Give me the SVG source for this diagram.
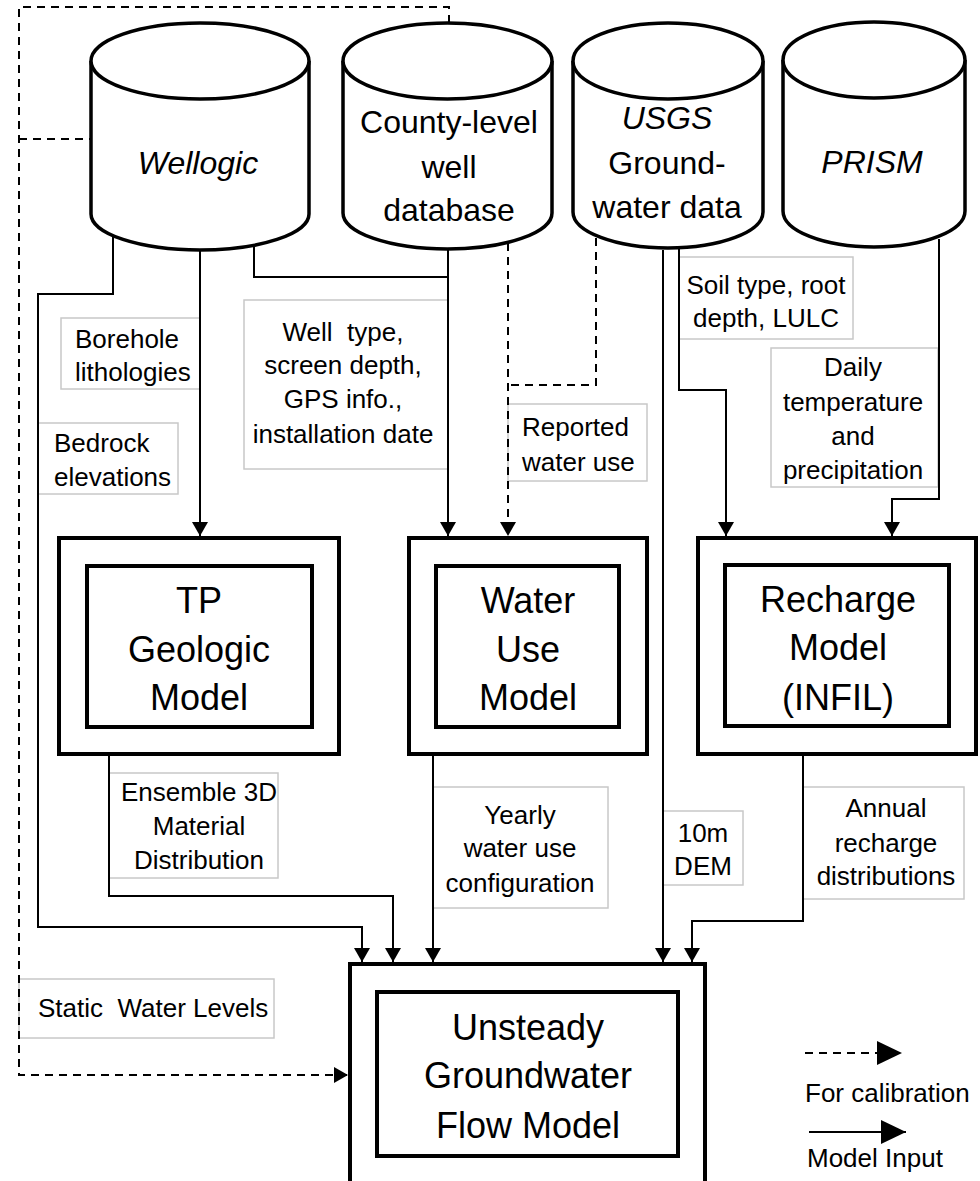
<svg xmlns="http://www.w3.org/2000/svg" width="980" height="1181" viewBox="0 0 980 1181">
  <style>
    .cyl { fill: #fff; stroke: #000; stroke-width: 3.5; }
    .outer { fill: #fff; stroke: #000; stroke-width: 4; }
    .inner { fill: none; stroke: #000; stroke-width: 4; }
    .lbl { fill: #fff; stroke: #c8c8c8; stroke-width: 1.5; }
    .wire { fill: none; stroke: #000; stroke-width: 2; }
    .dash { fill: none; stroke: #000; stroke-width: 2; stroke-dasharray: 8 6; }
    text { font-family: "Liberation Sans", Arial, sans-serif; fill: #000; white-space: pre; }
    .t-cyl { font-size: 32px; text-anchor: middle; }
    .t-box { font-size: 36px; text-anchor: middle; }
    .t-lbl { font-size: 26px; }
    .mid { text-anchor: middle; }
    .it { font-style: italic; }
  </style>
  <defs>
    <marker id="arr" markerUnits="userSpaceOnUse" markerWidth="16" markerHeight="16" refX="14" refY="8" orient="auto">
      <path d="M0,0 L14,8 L0,16 Z" fill="#000"/>
    </marker>
    <marker id="arrBig" markerUnits="userSpaceOnUse" markerWidth="26" markerHeight="24" refX="25" refY="12" orient="auto">
      <path d="M0,0 L25,12 L0,24 Z" fill="#000"/>
    </marker>
  </defs>

  <!-- edge labels -->
  <g id="labels">
    <rect class="lbl" x="61" y="318" width="139" height="71"/>
    <text class="t-lbl" x="75" y="348">Borehole</text>
    <text class="t-lbl" x="75" y="381">lithologies</text>

    <rect class="lbl" x="38" y="423" width="140" height="71"/>
    <text class="t-lbl" x="54" y="452">Bedrock</text>
    <text class="t-lbl" x="54" y="486">elevations</text>

    <rect class="lbl" x="244" y="300" width="204" height="169"/>
    <text class="t-lbl mid" x="343" y="341" xml:space="preserve">Well  type,</text>
    <text class="t-lbl mid" x="343" y="374">screen depth,</text>
    <text class="t-lbl mid" x="343" y="408">GPS info.,</text>
    <text class="t-lbl mid" x="343" y="443">installation date</text>

    <rect class="lbl" x="508" y="404" width="139" height="77"/>
    <text class="t-lbl" x="522" y="436">Reported</text>
    <text class="t-lbl" x="522" y="471">water use</text>

    <rect class="lbl" x="679" y="257" width="174" height="82"/>
    <text class="t-lbl mid" x="766" y="294">Soil type, root</text>
    <text class="t-lbl mid" x="766" y="327">depth, LULC</text>

    <rect class="lbl" x="771" y="348" width="167" height="139"/>
    <text class="t-lbl mid" x="853" y="376">Daily</text>
    <text class="t-lbl mid" x="853" y="411">temperature</text>
    <text class="t-lbl mid" x="853" y="445">and</text>
    <text class="t-lbl mid" x="853" y="479">precipitation</text>

    <rect class="lbl" x="109" y="773" width="169" height="105"/>
    <text class="t-lbl mid" x="199" y="801">Ensemble 3D</text>
    <text class="t-lbl mid" x="199" y="835">Material</text>
    <text class="t-lbl mid" x="199" y="869">Distribution</text>

    <rect class="lbl" x="433" y="787" width="175" height="121"/>
    <text class="t-lbl mid" x="520" y="824">Yearly</text>
    <text class="t-lbl mid" x="520" y="857">water use</text>
    <text class="t-lbl mid" x="520" y="892">configuration</text>

    <rect class="lbl" x="663" y="811" width="80" height="74"/>
    <text class="t-lbl mid" x="703" y="842">10m</text>
    <text class="t-lbl mid" x="703" y="875">DEM</text>

    <rect class="lbl" x="803" y="787" width="161" height="112"/>
    <text class="t-lbl mid" x="886" y="817">Annual</text>
    <text class="t-lbl mid" x="886" y="852">recharge</text>
    <text class="t-lbl mid" x="886" y="885">distributions</text>

    <rect class="lbl" x="19" y="979" width="255" height="59"/>
    <text class="t-lbl" x="38" y="1017" xml:space="preserve">Static  Water Levels</text>
  </g>

  <!-- connectors -->
  <g id="connectors">
    <!-- model inputs -->
    <path class="wire" d="M113,236 V294 H38 V927 H362 V962" marker-end="url(#arr)"/>
    <path class="wire" d="M200,250 V536" marker-end="url(#arr)"/>
    <path class="wire" d="M254,245 V277 H448"/>
    <path class="wire" d="M448,249 V536" marker-end="url(#arr)"/>
    <path class="wire" d="M663,250 V962" marker-end="url(#arr)"/>
    <path class="wire" d="M679,249 V390 H726 V536" marker-end="url(#arr)"/>
    <path class="wire" d="M939,239 V499 H892 V536" marker-end="url(#arr)"/>
    <path class="wire" d="M109,754 V896 H393 V962" marker-end="url(#arr)"/>
    <path class="wire" d="M433,754 V962" marker-end="url(#arr)"/>
    <path class="wire" d="M803,754 V921 H692 V962" marker-end="url(#arr)"/>
    <!-- calibration data -->
    <path class="dash" d="M508,243 V536" marker-end="url(#arr)"/>
    <path class="dash" d="M596,238 V385 H508"/>
    <path class="dash" d="M449,23 V7 H19 V1075 H348" marker-end="url(#arr)"/>
    <path class="dash" d="M19,139 H91"/>
  </g>

  <!-- data sources -->
  <g id="wellogic">
    <path class="cyl" d="M91,61 V214 A109,36 0 0 0 309,214 V61"/>
    <ellipse class="cyl" cx="200" cy="61" rx="109" ry="38"/>
    <text class="t-cyl it" x="198" y="174">Wellogic</text>
  </g>
  <g id="county">
    <path class="cyl" d="M343,61 V213 A104.5,36 0 0 0 552,213 V61"/>
    <ellipse class="cyl" cx="447.5" cy="61" rx="104.5" ry="38"/>
    <text class="t-cyl" x="449" y="133">County-level</text>
    <text class="t-cyl" x="449" y="178">well</text>
    <text class="t-cyl" x="449" y="221">database</text>
  </g>
  <g id="usgs">
    <path class="cyl" d="M573,61 V212 A95,36 0 0 0 763,212 V61"/>
    <ellipse class="cyl" cx="668" cy="61" rx="95" ry="38"/>
    <text class="t-cyl it" x="667" y="129">USGS</text>
    <text class="t-cyl" x="667" y="174">Ground-</text>
    <text class="t-cyl" x="667" y="218">water data</text>
  </g>
  <g id="prism">
    <path class="cyl" d="M783,60 V211 A91,36 0 0 0 965,211 V60"/>
    <ellipse class="cyl" cx="874" cy="60" rx="91" ry="38"/>
    <text class="t-cyl it" x="872" y="173">PRISM</text>
  </g>

  <!-- models -->
  <g id="tp-geologic">
    <rect class="outer" x="59" y="538" width="280" height="216"/>
    <rect class="inner" x="87" y="566" width="225" height="161"/>
    <text class="t-box" x="199" y="613">TP</text>
    <text class="t-box" x="199" y="662">Geologic</text>
    <text class="t-box" x="199" y="710">Model</text>
  </g>
  <g id="water-use">
    <rect class="outer" x="409" y="538" width="238" height="216"/>
    <rect class="inner" x="436" y="566" width="183" height="161"/>
    <text class="t-box" x="528" y="613">Water</text>
    <text class="t-box" x="528" y="662">Use</text>
    <text class="t-box" x="528" y="710">Model</text>
  </g>
  <g id="recharge">
    <rect class="outer" x="698" y="538" width="278" height="216"/>
    <rect class="inner" x="725" y="565" width="224" height="161"/>
    <text class="t-box" x="838" y="612">Recharge</text>
    <text class="t-box" x="838" y="660">Model</text>
    <text class="t-box" x="838" y="710">(INFIL)</text>
  </g>
  <g id="groundwater-flow">
    <rect class="outer" x="350" y="964" width="355" height="240"/>
    <rect class="inner" x="377" y="992" width="301" height="164"/>
    <text class="t-box" x="528" y="1040">Unsteady</text>
    <text class="t-box" x="528" y="1088">Groundwater</text>
    <text class="t-box" x="528" y="1138">Flow Model</text>
  </g>

  <!-- legend -->
  <g id="legend">
    <path class="dash" d="M805,1053 H902" marker-end="url(#arrBig)"/>
    <text class="t-lbl" x="805" y="1102">For calibration</text>
    <path class="wire" d="M809,1132 H906" marker-end="url(#arrBig)"/>
    <text class="t-lbl" x="807" y="1167">Model Input</text>
  </g>
</svg>
